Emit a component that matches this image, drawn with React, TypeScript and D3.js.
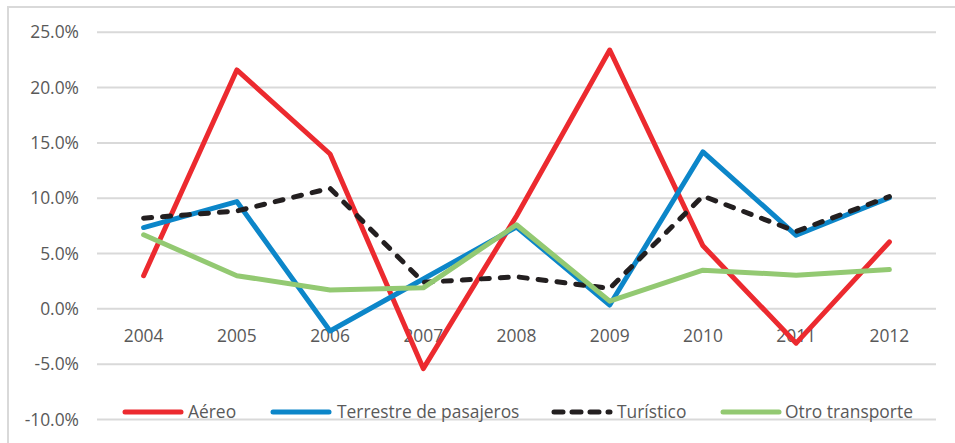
import React from "react";
import * as d3 from "d3";

const years = ["2004", "2005", "2006", "2007", "2008", "2009", "2010", "2011", "2012"];
const aereo = [3.0, 21.6, 14.0, -5.4, 8.4, 23.4, 5.7, -3.1, 6.05];
const terrestre = [7.35, 9.7, -2.0, 2.7, 7.4, 0.35, 14.2, 6.65, 10.05];
const turistico = [8.2, 8.85, 10.9, 2.4, 2.9, 1.85, 10.2, 7.0, 10.15];
const otro = [6.7, 3.0, 1.7, 1.9, 7.6, 0.7, 3.5, 3.05, 3.55];
const yTicks = [25, 20, 15, 10, 5, 0, -5, -10];

const seriesNames = ["Aéreo", "Terrestre de pasajeros", "Turístico", "Otro transporte"];
const seriesData = [aereo, terrestre, turistico, otro];
const colors = ["#EC2A2F", "#0C86C9", "#231F20", "#93C972"];
const dashes = [null, null, "8 11", null];

const W = 955;
const H = 443;
const FONT = "'Open Sans', sans-serif";
const TEXT = "#595959";
const GRID = "#D9D9D9";
const FS = 17.4;

export default function App() {
  const x = d3.scaleBand().domain(years).range([97, 936]);
  const y = d3.scaleLinear().domain([-10, 25]).range([419.5, 32.3]);
  const line = d3
    .line<number>()
    .x((_, i) => (x(years[i]) as number) + x.bandwidth() / 2)
    .y((d) => y(d));
  const fmt = (t: number) => d3.format(".1f")(t).replace("\u2212", "-") + "%";

  const legendItems = [
    { lx: 123, tx: 188 },
    { lx: 271, tx: 337 },
    { lx: 552, tx: 617 },
    { lx: 721, tx: 785 },
  ];

  return (
    <div style={{ position: "absolute", left: 0, top: 0 }}>
      <svg width={W} height={H} style={{ display: "block" }}>
        <rect x={0} y={0} width={W} height={H} fill="#fff" />
        <rect x={8} y={7} width={970} height={460} fill="none" stroke={GRID} strokeWidth={2} />
        {yTicks.map((t) => (
          <g key={t}>
            <line x1={97} x2={936} y1={y(t)} y2={y(t)} stroke={GRID} strokeWidth={2} />
            <text
              x={79}
              y={y(t)}
              dy="0.35em"
              textAnchor="end"
              fontFamily={FONT}
              fontSize={FS}
              fill={TEXT}
            >
              {fmt(t)}
            </text>
          </g>
        ))}
        {years.map((yr) => (
          <text
            key={yr}
            x={(x(yr) as number) + x.bandwidth() / 2}
            y={342}
            textAnchor="middle"
            fontFamily={FONT}
            fontSize={FS}
            fill={TEXT}
          >
            {yr}
          </text>
        ))}
        {seriesData.map((s, i) => (
          <path
            key={i}
            d={line(s) || ""}
            fill="none"
            stroke={colors[i]}
            strokeWidth={5}
            strokeLinecap="round"
            strokeLinejoin="round"
            strokeDasharray={dashes[i] || undefined}
          />
        ))}
        {seriesNames.map((n, i) => (
          <g key={n}>
            <line
              x1={legendItems[i].lx + 2}
              x2={legendItems[i].lx + 58}
              y1={412}
              y2={412}
              stroke={colors[i]}
              strokeWidth={5}
              strokeLinecap="round"
              strokeDasharray={dashes[i] ? "9 9" : undefined}
            />
            <text
              x={legendItems[i].tx}
              y={418}
              fontFamily={FONT}
              fontSize={FS}
              fill={TEXT}
            >
              {n}
            </text>
          </g>
        ))}
      </svg>
    </div>
  );
}
